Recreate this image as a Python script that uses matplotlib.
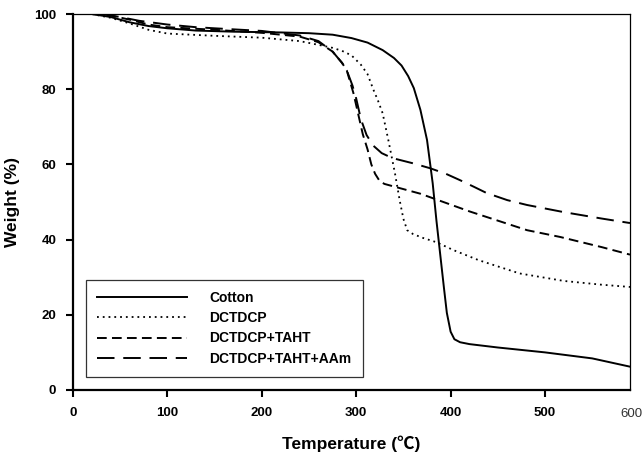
import matplotlib
matplotlib.use("Agg")
import matplotlib.pyplot as plt

plt.rcParams['font.family'] = ['Liberation Sans', 'DejaVu Sans']

# TGA curves
cotton_t = [20, 40, 60, 80, 100, 130, 170, 220, 250, 275, 295, 312, 328, 340, 348,
            355, 361, 368, 375, 381, 385, 389, 393, 396, 400, 404, 410, 420, 450,
            500, 550, 590]
cotton_w = [100, 99.2, 97.8, 96.8, 96.2, 95.6, 95.3, 95.1, 94.9, 94.5, 93.6, 92.4,
            90.4, 88.3, 86.3, 83.5, 80.3, 74.5, 66.5, 55, 45, 36, 27, 20.5, 15.5,
            13.5, 12.7, 12.2, 11.3, 10, 8.4, 6.2]

dctdcp_t = [20, 40, 60, 80, 100, 150, 200, 240, 260, 275, 285, 295, 305, 312, 318,
            323, 328, 334, 341, 346, 350, 354, 360, 370, 385, 403, 430, 473, 520, 560, 590]
dctdcp_w = [100, 99, 97.5, 95.8, 94.8, 94.2, 93.7, 92.8, 91.8, 91, 90.2, 89, 86.5, 84,
            80, 77, 73.6, 66.5, 57.7, 50.5, 45.5, 42.5, 41.5, 40.5, 39.3, 37.2, 34.5,
            31, 29, 28, 27.4]

taht_t = [20, 40, 60, 80, 100, 150, 200, 240, 260, 275, 285, 290, 297, 302, 307, 312,
          316, 320, 325, 330, 346, 368, 420, 481, 516, 560, 590]
taht_w = [100, 99.6, 98.5, 97.2, 96.5, 95.8, 95, 94, 92.5, 90, 87, 85, 79, 73.5, 68,
          64, 60, 57.5, 55.5, 54.8, 53.7, 52.2, 47.5, 42.5, 40.7, 38, 36]

aam_t = [30, 50, 70, 100, 130, 150, 200, 240, 260, 275, 285, 290, 296, 300, 305, 311,
         318, 327, 338, 360, 378, 395, 410, 425, 438, 460, 481, 520, 560, 590]
aam_w = [100, 99.2, 98.2, 97.2, 96.5, 96.2, 95.5, 94.3, 92.8, 90, 87, 85, 81, 77.5, 72,
         67.8, 65, 63, 61.7, 60.3, 59, 57.5, 55.8, 54, 52.4, 50.5, 49.2, 47.3, 45.6, 44.4]

labels = ['Cotton', 'DCTDCP', 'DCTDCP+TAHT', 'DCTDCP+TAHT+AAm']
x_ticks = [0, 100, 200, 300, 400, 500]
y_ticks = [0, 20, 40, 60, 80, 100]

fig = plt.figure(figsize=(6.42, 4.55), dpi=100)
ax = fig.add_axes([0.1137, 0.1429, 0.8676, 0.8263])

ax.plot(cotton_t, cotton_w, color='black', lw=1.4, ls='-', label=labels[0])
ax.plot(dctdcp_t, dctdcp_w, color='black', lw=1.3, ls=(0, (1, 2.2)), label=labels[1])
ax.plot(taht_t, taht_w, color='black', lw=1.4, ls=(0, (5, 2.7)), label=labels[2])
ax.plot(aam_t, aam_w, color='black', lw=1.4, ls=(0, (9, 4.5)), label=labels[3])

ax.set_xlim(0, 590)
ax.set_ylim(0, 100)
ax.set_xticks(x_ticks)
ax.set_yticks(y_ticks)
ax.tick_params(direction='out', length=5, width=1.5, labelsize=9.5, pad=7)
for lab in ax.get_xticklabels() + ax.get_yticklabels():
    lab.set_fontweight('bold')

for side in ['left', 'bottom']:
    ax.spines[side].set_linewidth(1.6)
for side in ['top', 'right']:
    ax.spines[side].set_linewidth(0.9)

# lone "600" label at the right end of the axis, in plain type
ax.text(592, -4.8, '600', ha='center', va='top', fontsize=9.5, color='#333333')

ax.set_xlabel('Temperature (\u2103)', fontsize=12.5, fontweight='bold', labelpad=12,
              family=['Liberation Sans', 'Noto Sans CJK SC', 'DejaVu Sans'])
ax.set_ylabel('Weight (%)', fontsize=12.5, fontweight='bold', labelpad=10)

leg = ax.legend(loc='lower left', bbox_to_anchor=(0.023, 0.035), borderaxespad=0,
                fancybox=False, edgecolor='black', handlelength=6.5,
                handletextpad=1.6, labelspacing=0.45, borderpad=0.8,
                prop={'weight': 'bold', 'size': 10})
leg.get_frame().set_linewidth(0.9)

fig.savefig('out.png', dpi=100)
